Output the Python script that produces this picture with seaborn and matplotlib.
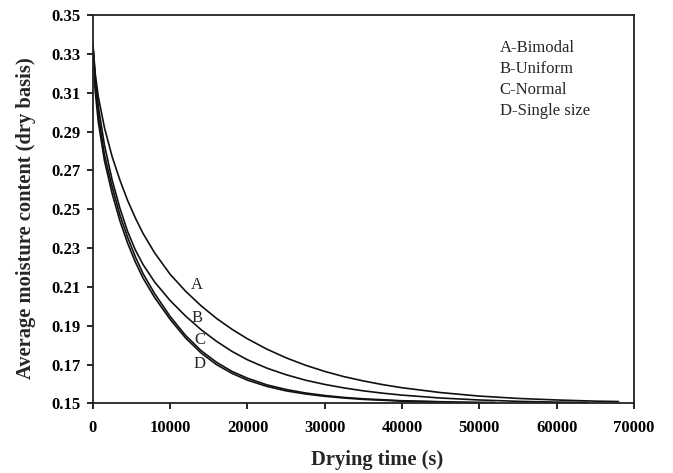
import pandas as pd
import matplotlib
matplotlib.use("Agg")
import matplotlib.pyplot as plt
import seaborn as sns

# drying curves: time (s) and moisture content (dry basis)
t_a = [0, 300, 700, 1500, 2500, 3500, 4500, 5500, 6500, 8000, 10000, 12000, 14000,
       16000, 18000, 20000, 22500, 25000, 27500, 30000, 32500, 35000, 37500, 40000,
       45000, 50000, 55000, 60000, 65000, 68000]
m_a = [0.335, 0.320, 0.308, 0.292, 0.277, 0.265, 0.2545, 0.2455, 0.2375, 0.2275,
       0.2165, 0.2078, 0.2003, 0.1938, 0.1882, 0.1833, 0.178, 0.1735, 0.1697, 0.1665,
       0.1638, 0.1616, 0.1597, 0.1581, 0.1556, 0.1538, 0.1526, 0.1518, 0.1512, 0.151]

t_b = [0, 300, 700, 1500, 2500, 3500, 4500, 5500, 6500, 8000, 10000, 12000, 14000,
       16000, 18000, 20000, 22500, 25000, 27500, 30000, 32500, 35000, 37500, 40000,
       45000, 50000, 55000, 60000, 64000]
m_b = [0.335, 0.318, 0.303, 0.283, 0.265, 0.2505, 0.2385, 0.229, 0.2215, 0.2125,
       0.203, 0.195, 0.188, 0.182, 0.1768, 0.1725, 0.1682, 0.1648, 0.162, 0.1598,
       0.158, 0.1565, 0.1553, 0.1543, 0.1528, 0.1518, 0.1511, 0.1507, 0.1505]

t_c = [0, 300, 700, 1500, 2500, 3500, 4500, 5500, 6500, 8000, 10000, 12000, 14000,
       16000, 18000, 20000, 22500, 25000, 27500, 30000, 32500, 35000, 40000, 45000,
       50000, 52000]
m_c = [0.335, 0.315, 0.299, 0.278, 0.2615, 0.247, 0.2355, 0.2255, 0.2168, 0.2065,
       0.1948, 0.185, 0.1772, 0.1712, 0.1665, 0.163, 0.1596, 0.1572, 0.1554, 0.1541,
       0.1531, 0.1524, 0.1514, 0.1509, 0.1506, 0.1505]

t_d = [0, 300, 700, 1500, 2500, 3500, 4500, 5500, 6500, 8000, 10000, 12000, 14000,
       16000, 18000, 20000, 22500, 25000, 27500, 30000, 32500, 35000, 40000, 45000]
m_d = [0.335, 0.311, 0.295, 0.275, 0.258, 0.244, 0.2325, 0.2228, 0.2145, 0.2045,
       0.1933, 0.1837, 0.176, 0.1700, 0.1655, 0.162, 0.1588, 0.1565, 0.1549, 0.1537,
       0.1528, 0.1521, 0.1512, 0.1508]

labels = ["A", "B", "C", "D"]
label_t = [13500, 13500, 13800, 13800]
label_m = [0.211, 0.194, 0.1825, 0.1705]
legend_lines = ["A-Bimodal", "B-Uniform", "C-Normal", "D-Single size"]

frames = []
for name, t, m in zip(labels, [t_a, t_b, t_c, t_d], [m_a, m_b, m_c, m_d]):
    frames.append(pd.DataFrame({"time": t, "moisture": m, "curve": name}))
df = pd.concat(frames, ignore_index=True)

sns.set_style("ticks")
plt.rcParams["font.family"] = ["Liberation Serif", "DejaVu Serif"]

fig = plt.figure(figsize=(6.73, 4.73), dpi=100)
ax = fig.add_axes([0.138, 0.147, 0.804, 0.821])

for name in labels:
    sub = df[df["curve"] == name]
    sns.lineplot(data=sub, x="time", y="moisture", ax=ax, color="#111111",
                 linewidth=1.2, estimator=None, legend=False)

for lab, x, y in zip(labels, label_t, label_m):
    ax.text(x, y, lab, fontsize=12, ha="center", va="center")

ax.text(0.752, 0.937, "\n".join(legend_lines), transform=ax.transAxes,
        fontsize=12, ha="left", va="top", linespacing=1.42)

ax.set_xlim(0, 70000)
ax.set_ylim(0.15, 0.35)
ax.set_xticks(range(0, 70001, 10000))
ax.set_yticks([0.15 + 0.02 * i for i in range(11)])
ax.set_yticklabels([f"{0.15 + 0.02 * i:.2f}" for i in range(11)])
ax.tick_params(direction="out", length=4, width=1.2, labelsize=12, colors="black")
ax.tick_params(axis="x", pad=8)
ax.tick_params(axis="y", pad=5)
for lbl in ax.get_xticklabels() + ax.get_yticklabels():
    lbl.set_fontweight("bold")
for sp in ax.spines.values():
    sp.set_linewidth(1.3)
    sp.set_color("#222222")

ax.set_xlabel("Drying time (s)", fontsize=14.8, fontweight="bold")
ax.set_ylabel("Average moisture content (dry basis)", fontsize=14.8, fontweight="bold")
ax.xaxis.set_label_coords(0.526, -0.121)
ax.yaxis.set_label_coords(-0.106, 0.476)

plt.savefig("out.png", dpi=100)
